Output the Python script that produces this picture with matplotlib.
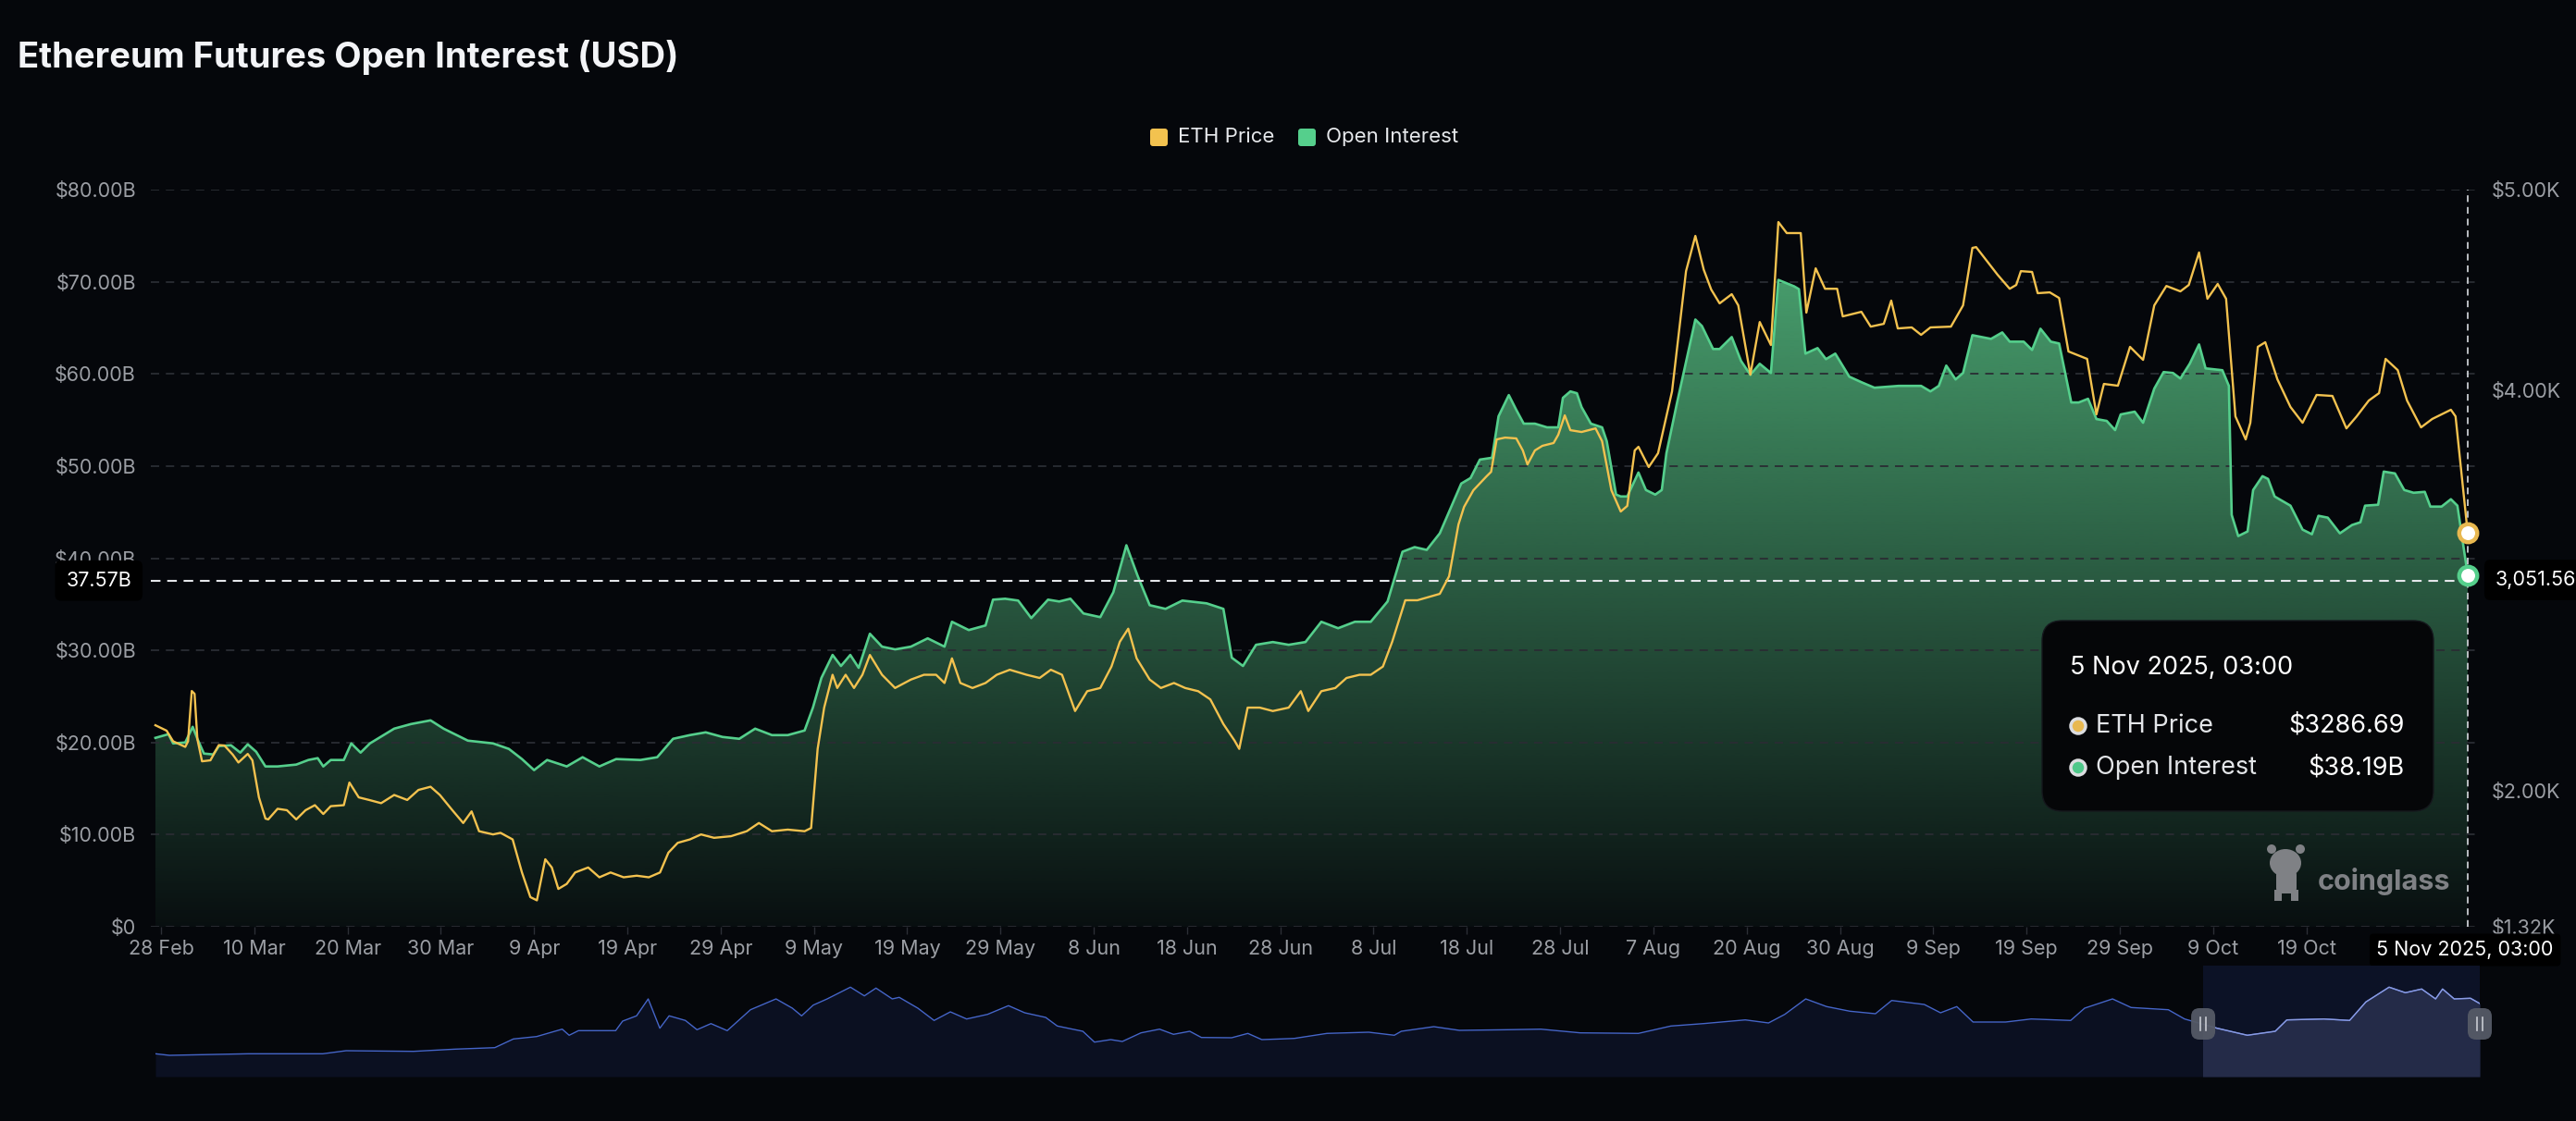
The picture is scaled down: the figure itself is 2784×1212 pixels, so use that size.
import numpy as np
import matplotlib
matplotlib.use("Agg")
import matplotlib.pyplot as plt
from matplotlib.patches import FancyBboxPatch, Rectangle, Ellipse, Circle

plt.rcParams["font.family"] = ["Inter", "DejaVu Sans"]

BG = "#05070b"
ETH_COLOR = "#f3c24f"
OI_COLOR = "#55cf8c"
GRID = "#2a2d33"
TICK = "#9b9ea4"

# x axis is a category axis: one slot per day (a few August days are missing)
tick_labels = ["28 Feb", "10 Mar", "20 Mar", "30 Mar", "9 Apr", "19 Apr", "29 Apr",
               "9 May", "19 May", "29 May", "8 Jun", "18 Jun", "28 Jun", "8 Jul",
               "18 Jul", "28 Jul", "7 Aug", "20 Aug", "30 Aug", "9 Sep", "19 Sep",
               "29 Sep", "9 Oct", "19 Oct"]
tick_slots = list(range(0, 240, 10))

# open interest, (slot, billions USD)
oi_points = [
    (-0.6, 20.5), (0.8, 20.9), (1.3, 19.9), (2.6, 20.0), (3.4, 21.7), (3.9, 20.4),
    (4.6, 18.8), (5.6, 18.7), (6.2, 19.6), (7.5, 19.7), (8.5, 18.9), (9.3, 19.8),
    (10.2, 19.0), (11.2, 17.4), (12.5, 17.4), (14.5, 17.6), (15.8, 18.1), (16.8, 18.3),
    (17.4, 17.4), (18.2, 18.1), (19.6, 18.1), (20.4, 19.9), (21.4, 18.9), (22.4, 19.9),
    (25.0, 21.5), (26.8, 22.0), (28.9, 22.4), (30.3, 21.5), (32.9, 20.2), (35.6, 19.9),
    (37.3, 19.3), (38.7, 18.2), (40.0, 17.0), (41.4, 18.1), (43.5, 17.4), (45.2, 18.4),
    (47.0, 17.4), (48.8, 18.2), (51.4, 18.1), (53.2, 18.4), (54.9, 20.4), (56.7, 20.8),
    (58.4, 21.1), (60.2, 20.6), (62.0, 20.4), (63.7, 21.5), (65.5, 20.8), (67.2, 20.8),
    (69.0, 21.3), (69.9, 23.8), (70.8, 27.0), (72.0, 29.5), (72.9, 28.3), (73.9, 29.5),
    (74.8, 28.1), (76.0, 31.8), (77.3, 30.4), (78.7, 30.1), (80.4, 30.4), (82.2, 31.3),
    (84.0, 30.4), (84.8, 33.1), (86.6, 32.2), (88.4, 32.7), (89.2, 35.5), (90.5, 35.6),
    (91.9, 35.4), (93.3, 33.5), (95.1, 35.5), (96.3, 35.3), (97.5, 35.6), (98.9, 34.0),
    (100.7, 33.6), (102.1, 36.3), (103.5, 41.4), (104.7, 38.1), (106.0, 34.9), (107.7, 34.5),
    (109.5, 35.4), (112.1, 35.1), (113.9, 34.5), (114.8, 29.2), (116.0, 28.3), (117.4, 30.6),
    (119.2, 30.9), (120.9, 30.6), (122.7, 30.9), (124.4, 33.1), (126.2, 32.4), (128.0, 33.1),
    (129.7, 33.1), (131.5, 35.3), (133.1, 40.7), (134.4, 41.2), (135.7, 40.9), (137.1, 42.7),
    (139.4, 48.1), (140.4, 48.7), (141.4, 50.7), (142.7, 50.9), (143.4, 55.4), (144.5, 57.7),
    (145.3, 56.1), (146.1, 54.6), (147.3, 54.6), (148.6, 54.2), (149.8, 54.2), (150.3, 57.4),
    (151.1, 58.1), (151.8, 57.9), (152.3, 56.4), (153.3, 54.6), (154.5, 54.2), (155.0, 52.7),
    (156.0, 46.9), (156.5, 46.7), (157.2, 46.7), (158.4, 49.3), (159.2, 47.4), (160.2, 46.9),
    (160.9, 47.4), (161.4, 51.4), (162.5, 56.7), (164.5, 65.9), (165.2, 65.2), (166.4, 62.7),
    (167.1, 62.7), (168.4, 64.0), (169.4, 61.4), (170.4, 59.9), (171.4, 61.1), (172.6, 60.1),
    (173.4, 70.2), (175.1, 69.5), (175.6, 69.2), (176.3, 62.2), (177.6, 62.8), (178.5, 61.6),
    (179.5, 62.2), (181.0, 59.7), (182.3, 59.1), (183.7, 58.5), (186.3, 58.7), (188.7, 58.7),
    (189.7, 58.1), (190.6, 58.7), (191.4, 60.9), (192.4, 59.4), (193.2, 60.1), (194.2, 64.2),
    (196.2, 63.8), (197.4, 64.5), (198.2, 63.5), (199.7, 63.5), (200.6, 62.6), (201.5, 64.9),
    (202.6, 63.5), (203.5, 63.3), (204.8, 56.9), (205.6, 56.9), (206.6, 57.3), (207.5, 55.1),
    (208.6, 54.9), (209.5, 53.9), (210.1, 55.6), (211.6, 55.9), (212.5, 54.7), (213.7, 58.4),
    (214.7, 60.2), (215.7, 60.1), (216.5, 59.5), (217.5, 61.1), (218.5, 63.2), (219.2, 60.6),
    (221.0, 60.4), (221.7, 58.7), (222.0, 44.7), (222.7, 42.4), (223.7, 42.9), (224.3, 47.4),
    (225.3, 48.9), (225.9, 48.6), (226.6, 46.7), (228.3, 45.7), (229.6, 43.1), (230.6, 42.6),
    (231.3, 44.6), (232.3, 44.4), (233.6, 42.7), (234.9, 43.6), (235.8, 43.9), (236.3, 45.7),
    (237.7, 45.8), (238.3, 49.4), (239.5, 49.2), (240.5, 47.4), (241.5, 47.1), (242.7, 47.2),
    (243.3, 45.6), (244.5, 45.6), (245.5, 46.4), (246.2, 45.7), (247.3, 38.19),
]

# ETH price, (slot, USD)
eth_points = [
    (-0.6, 2326), (0.6, 2299), (1.3, 2246), (2.6, 2218), (2.9, 2246), (3.3, 2497),
    (3.6, 2483), (3.9, 2257), (4.4, 2146), (5.3, 2151), (6.2, 2227), (6.8, 2225),
    (7.7, 2179), (8.3, 2140), (9.3, 2183), (9.8, 2151), (10.5, 1966), (11.2, 1860),
    (11.5, 1856), (12.5, 1909), (13.5, 1902), (14.5, 1856), (15.5, 1902), (16.5, 1927),
    (17.4, 1883), (18.2, 1922), (19.6, 1927), (20.2, 2040), (21.2, 1966), (22.4, 1952),
    (23.6, 1937), (25.0, 1978), (26.4, 1953), (27.6, 2003), (28.9, 2019), (29.9, 1978),
    (31.2, 1904), (32.4, 1838), (33.3, 1896), (34.1, 1797), (35.6, 1781), (36.4, 1789),
    (37.7, 1756), (38.7, 1591), (39.6, 1468), (40.3, 1452), (41.2, 1657), (41.9, 1616),
    (42.6, 1509), (43.5, 1534), (44.4, 1591), (45.8, 1616), (47.0, 1567), (48.2, 1591),
    (49.6, 1567), (51.0, 1575), (52.3, 1567), (53.5, 1591), (54.4, 1690), (55.4, 1739),
    (56.7, 1756), (57.9, 1781), (59.3, 1764), (61.1, 1772), (62.8, 1797), (64.1, 1838),
    (65.5, 1797), (67.2, 1805), (69.0, 1797), (69.7, 1813), (70.4, 2208), (71.1, 2414),
    (72.0, 2578), (72.5, 2512), (73.4, 2578), (74.3, 2512), (75.2, 2578), (76.0, 2677),
    (77.3, 2578), (78.7, 2512), (80.4, 2554), (81.8, 2578), (83.1, 2578), (84.0, 2537),
    (84.8, 2660), (85.7, 2537), (87.0, 2512), (88.4, 2537), (89.6, 2578), (91.0, 2603),
    (92.8, 2578), (94.2, 2562), (95.4, 2603), (96.6, 2578), (98.0, 2397), (99.3, 2496),
    (100.7, 2512), (101.9, 2619), (102.8, 2743), (103.7, 2808), (104.6, 2660), (106.0, 2554),
    (107.2, 2512), (108.6, 2537), (109.8, 2512), (111.2, 2496), (112.5, 2455), (113.9, 2332),
    (115.1, 2249), (115.6, 2208), (116.5, 2414), (117.8, 2414), (119.2, 2397), (120.9, 2414),
    (122.2, 2496), (123.0, 2397), (124.4, 2496), (125.9, 2512), (127.1, 2562), (128.5, 2578),
    (129.7, 2578), (131.0, 2619), (132.0, 2743), (133.4, 2950), (134.7, 2950), (137.1, 2982),
    (138.1, 3070), (139.1, 3328), (139.7, 3416), (140.7, 3499), (142.1, 3568), (142.6, 3591),
    (143.2, 3753), (144.1, 3762), (145.3, 3758), (146.0, 3698), (146.5, 3628), (147.3, 3698),
    (148.1, 3721), (149.3, 3735), (149.8, 3776), (150.5, 3873), (151.1, 3799), (152.3, 3790),
    (153.8, 3808), (154.5, 3744), (155.5, 3499), (156.5, 3393), (157.2, 3421), (158.0, 3698),
    (158.4, 3716), (159.5, 3615), (160.5, 3684), (162.0, 3993), (163.5, 4593), (164.5, 4769),
    (165.4, 4600), (166.2, 4501), (167.1, 4432), (168.4, 4478), (169.1, 4422), (170.4, 4076),
    (171.4, 4339), (172.6, 4224), (173.4, 4838), (174.3, 4783), (175.8, 4783), (176.4, 4386),
    (177.4, 4607), (178.4, 4505), (179.7, 4505), (180.3, 4367), (182.3, 4390), (183.3, 4316),
    (184.7, 4330), (185.5, 4446), (186.2, 4307), (187.7, 4312), (188.7, 4275), (189.7, 4312),
    (191.9, 4316), (193.2, 4422), (194.2, 4709), (194.6, 4713), (196.9, 4575), (198.2, 4505),
    (198.9, 4524), (199.4, 4593), (200.6, 4589), (201.2, 4483), (202.5, 4487), (203.5, 4459),
    (204.5, 4192), (206.5, 4155), (207.5, 3878), (208.3, 4030), (209.8, 4021), (211.1, 4215),
    (212.5, 4150), (213.7, 4422), (215.0, 4519), (216.5, 4492), (217.4, 4524), (218.5, 4686),
    (219.4, 4455), (220.5, 4529), (221.4, 4455), (222.4, 3868), (223.5, 3753), (224.0, 3836),
    (224.8, 4215), (225.6, 4238), (226.9, 4053), (228.3, 3915), (229.6, 3836), (231.1, 3975),
    (232.8, 3970), (234.3, 3808), (235.4, 3868), (236.7, 3947), (237.8, 3984), (238.5, 4155),
    (239.8, 4099), (240.8, 3947), (242.3, 3813), (243.5, 3855), (245.5, 3901), (246.0, 3868),
    (247.3, 3286.69),
]

# overview strip at the bottom (whole history, relative units)
nav_points = [
    (0.0, 24.7), (0.6, 23.0), (4.0, 24.7), (7.2, 24.7), (8.2, 28.0), (11.1, 27.3),
    (12.9, 29.7), (14.6, 31.3), (15.4, 40.7), (16.4, 43.3), (17.5, 51.3), (17.8, 44.7),
    (18.2, 49.7), (19.8, 49.7), (20.1, 60.0), (20.7, 65.7), (21.2, 84.0), (21.7, 52.3),
    (22.1, 65.7), (22.8, 60.7), (23.3, 50.7), (23.9, 57.3), (24.6, 49.7), (25.6, 72.3),
    (26.7, 84.0), (27.4, 74.0), (27.8, 65.7), (28.3, 77.3), (28.9, 84.0), (29.9, 96.7),
    (30.5, 87.3), (31.0, 95.7), (31.7, 84.0), (32.0, 85.7), (32.8, 74.0), (33.5, 60.7),
    (34.2, 70.0), (34.9, 62.3), (35.8, 67.3), (36.7, 76.7), (37.4, 69.0), (38.3, 64.0),
    (38.8, 54.7), (39.9, 49.0), (40.4, 37.3), (41.1, 40.0), (41.6, 38.0), (42.4, 47.3),
    (43.2, 51.3), (43.8, 45.7), (44.5, 49.0), (45.0, 42.3), (46.3, 42.0), (47.0, 46.7),
    (47.6, 40.0), (48.4, 40.7), (49.0, 41.3), (50.4, 46.7), (52.2, 48.0), (53.3, 44.7),
    (53.6, 49.0), (55.0, 54.0), (56.1, 50.0), (58.2, 50.7), (59.6, 51.3), (61.3, 47.3),
    (63.8, 46.7), (65.2, 54.7), (66.6, 57.3), (68.4, 61.3), (69.4, 58.0), (70.1, 67.3),
    (71.0, 84.0), (71.9, 75.7), (72.9, 70.7), (74.0, 68.0), (74.7, 82.3), (76.1, 78.0),
    (76.8, 69.0), (77.5, 75.7), (78.2, 59.0), (79.6, 59.0), (80.7, 62.3), (82.4, 60.7),
    (83.0, 74.0), (84.2, 84.0), (85.0, 74.7), (86.6, 72.3), (87.3, 62.3), (88.7, 52.3),
    (90.0, 44.7), (91.2, 49.0), (91.7, 61.3), (93.3, 62.3), (94.4, 60.7), (95.1, 80.7),
    (96.1, 96.7), (96.8, 90.7), (97.5, 94.7), (98.1, 84.0), (98.4, 94.7), (98.9, 84.0),
    (99.6, 84.7), (100.0, 79.0),
]
nav_window = (88.1, 100.0)

crosshair_oi = 37.57
crosshair_eth = 3051.56
hover_label = "5 Nov 2025, 03:00"

oi_x, oi_y = map(np.array, zip(*oi_points))
eth_x, eth_y = map(np.array, zip(*eth_points))
nav_x, nav_y = map(np.array, zip(*nav_points))

W, H = 2784, 1212
fig = plt.figure(figsize=(W / 100, H / 100), dpi=100, facecolor=BG)


def fbox(left, top, right, bottom):
    # pixel box (top-origin) -> figure fraction rect
    return [left / W, 1 - bottom / H, (right - left) / W, (bottom - top) / H]


ax = fig.add_axes(fbox(163, 205, 2676, 1002))
ax.set_facecolor(BG)
for s in ax.spines.values():
    s.set_visible(False)
XMIN, XMAX = -1.09, 248.2

# gradient fill under open interest
poly = ax.fill_between(oi_x, oi_y, 0, color="none", lw=0)
yy = np.linspace(0, 80, 400)
alpha = 0.05 + 0.85 * np.clip(yy / 70.0, 0, 1)
rgba = np.zeros((len(yy), 2, 4))
rgba[..., 0] = 78 / 255
rgba[..., 1] = 172 / 255
rgba[..., 2] = 118 / 255
rgba[..., 3] = alpha[:, None]
im = ax.imshow(rgba, extent=[XMIN, XMAX, 0, 80], origin="lower", aspect="auto",
               zorder=1, interpolation="bilinear")
im.set_clip_path(poly.get_paths()[0], transform=ax.transData)
ax.plot(oi_x, oi_y, color=OI_COLOR, lw=1.9, zorder=3, solid_joinstyle="round")

ax.set_xlim(XMIN, XMAX)
ax.set_ylim(0, 80)
ax.set_yticks(np.arange(0, 81, 10))
ax.set_yticklabels(["$0"] + [f"${v:.2f}B" for v in range(10, 81, 10)])
ax.grid(axis="y", color=GRID, linestyle=(0, (5, 4)), linewidth=1.3, zorder=0)
ax.tick_params(axis="y", length=0, pad=11.5, labelsize=15.5, labelcolor=TICK)
ax.set_xticks(tick_slots)
ax.set_xticklabels(tick_labels)
ax.tick_params(axis="x", length=6, width=1, color="#2c2f36", pad=4,
               labelsize=15.5, labelcolor=TICK)

ax2 = ax.twinx()
for s in ax2.spines.values():
    s.set_visible(False)
ax2.set_ylim(1320, 5000)
# the $3.00K label sits under the crosshair value box, so it is not shown
ax2.set_yticks([1320, 2000, 4000, 5000])
ax2.set_yticklabels(["$1.32K", "$2.00K", "$4.00K", "$5.00K"])
ax2.tick_params(axis="y", length=0, pad=12, labelsize=15.5, labelcolor=TICK)
ax2.plot(eth_x, eth_y, color=ETH_COLOR, lw=1.7, zorder=4, solid_joinstyle="round")
ax2.set_xlim(XMIN, XMAX)

# crosshair
x_last = oi_x[-1]
ax2.axvline(x_last, color="#c9ccd1", lw=1.3, ls=(0, (4, 3)), zorder=5)
ax.plot([XMIN, x_last], [crosshair_oi, crosshair_oi], color="#e4e6ea", lw=1.5,
        ls=(0, (5, 3.5)), zorder=5)
ax2.plot([x_last], [eth_y[-1]], "o", ms=14, mfc="white", mec="#e8b850", mew=3.2,
         zorder=8, clip_on=False)
ax2.plot([x_last], [oi_y[-1]], "o", ms=14, mfc="white", mec=OI_COLOR, mew=3.2,
         zorder=8, clip_on=False, transform=ax.transData)

ax.annotate(f"{crosshair_oi:.2f}B", xy=(0, crosshair_oi), xycoords=("axes fraction", "data"),
            xytext=(-15, 0), textcoords="offset points", ha="right", va="center",
            fontsize=15.5, color="white",
            bbox=dict(boxstyle="round,pad=0.55,rounding_size=0.3", fc="black", ec="none"),
            annotation_clip=False, zorder=20)
ax2.annotate(f"{crosshair_eth:,.2f}", xy=(1, crosshair_eth), xycoords=("axes fraction", "data"),
             xytext=(15, 0), textcoords="offset points", ha="left", va="center",
             fontsize=15.5, color="white",
             bbox=dict(boxstyle="round,pad=0.55,rounding_size=0.3", fc="black", ec="none"),
             annotation_clip=False, zorder=20)
ax2.annotate(hover_label, xy=(x_last, 1320), xycoords="data",
             xytext=(-2, -18), textcoords="offset points", ha="center", va="center",
             fontsize=15.5, color="white",
             bbox=dict(boxstyle="round,pad=0.35,rounding_size=0.2", fc="black", ec="none"),
             annotation_clip=False, zorder=20)

# overview strip
nav = fig.add_axes(fbox(168, 1044, 2680, 1164))
nav.set_xlim(0, 100)
nav.set_ylim(0, 120)
nav.axis("off")
lo, hi = nav_window
nav.fill_between(nav_x, nav_y, 0, color="#0b1021", lw=0, zorder=1)
sel_bg = Rectangle((lo, 0), hi - lo, 120, fc="#0c1226", ec="none", zorder=0)
nav.add_patch(sel_bg)
sel_fill = nav.fill_between(nav_x, nav_y, 0, color="#242b48", lw=0, zorder=2)
sel_fill.set_clip_path(Rectangle((lo, 0), hi - lo, 120, transform=nav.transData))
nav.plot(nav_x, nav_y, color="#4565c8", lw=1.0, zorder=3)
sel_line = nav.plot(nav_x, nav_y, color="#8c9ce0", lw=1.0, zorder=4)[0]
sel_line.set_clip_path(Rectangle((lo, 0), hi - lo, 120, transform=nav.transData))

# overlay in top-origin pixel coordinates for decorations
ov = fig.add_axes([0, 0, 1, 1])
ov.set_xlim(0, W)
ov.set_ylim(H, 0)
ov.axis("off")

ov.text(19, 62, "Ethereum Futures Open Interest (USD)", fontsize=27.5, fontweight="bold",
        color="#f3f4f7", ha="left", va="center")

# legend
for sx, tx, label, c in [(1243, 1273, "ETH Price", ETH_COLOR),
                         (1403, 1433, "Open Interest", OI_COLOR)]:
    ov.add_patch(FancyBboxPatch((sx, 139), 19, 19, boxstyle="round,pad=0,rounding_size=3",
                                fc=c, ec="none"))
    ov.text(tx, 148, label, fontsize=16, color="#e6e8eb", ha="left", va="center")

# slider handles on the overview strip
for hx in (lo, hi):
    px = nav.transData.transform((hx, 0))[0]
    ov.add_patch(FancyBboxPatch((px - 13, 1090), 26, 34, boxstyle="round,pad=0,rounding_size=9",
                                fc="#555a66", ec="none", alpha=0.95))
    for dx in (-3, 3):
        ov.plot([px + dx, px + dx], [1100, 1114], color="#c8cbd2", lw=1.2)

# tooltip
ov.add_patch(FancyBboxPatch((2207, 671), 423, 206, boxstyle="round,pad=0,rounding_size=22",
                            fc="#050608", ec="#15181d", lw=1))
ov.text(2237, 722, hover_label, fontsize=19.5, color="white", ha="left", va="center")
rows = [("ETH Price", f"${eth_y[-1]:.2f}", "#e8b850", 785),
        ("Open Interest", f"${oi_y[-1]:.2f}B", "#4fc88a", 830)]
for label, val, c, ry in rows:
    ov.add_patch(Circle((2246, ry), 8, fc=c, ec="#dcdde0", lw=2.5))
    ov.text(2265, ry, label, fontsize=19.5, color="#e3e5e8", ha="left", va="center")
    ov.text(2599, ry, val, fontsize=19.5, color="white", ha="right", va="center")

# watermark
wm = "#7f8185"
ov.add_patch(Ellipse((2470, 933), 34, 30, fc=wm, ec="none"))
ov.add_patch(Ellipse((2455, 918), 10, 10, fc=wm, ec="none"))
ov.add_patch(Ellipse((2486, 918), 10, 10, fc=wm, ec="none"))
ov.add_patch(FancyBboxPatch((2460, 940), 22, 26, boxstyle="round,pad=0,rounding_size=6",
                            fc=wm, ec="none"))
ov.add_patch(Rectangle((2458, 962), 8, 12, fc=wm, ec="none"))
ov.add_patch(Rectangle((2476, 962), 8, 12, fc=wm, ec="none"))
ov.text(2505, 953, "coinglass", fontsize=22, fontweight="bold", color=wm,
        ha="left", va="center")

fig.savefig("out.png", dpi=100, facecolor=BG)
